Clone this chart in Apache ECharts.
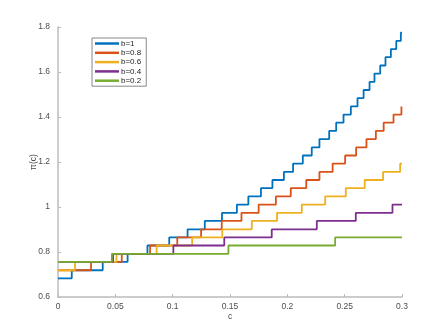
<!DOCTYPE html>
<html>
<head>
<meta charset="utf-8">
<script src="https://cdn.jsdelivr.net/npm/echarts@6/dist/echarts.min.js"></script>
<style>
  html, body { margin: 0; padding: 0; background: #fff; }
  #chart { width: 445px; height: 334px; }
</style>
</head>
<body>
<div id="chart"></div>
<script>
// step start positions (c) and the level held from there on
var b1X = [0, 0.012, 0.039, 0.0607, 0.078, 0.097, 0.113, 0.128, 0.143, 0.156, 0.166, 0.177, 0.187, 0.197, 0.205, 0.2135, 0.2213, 0.228, 0.2365, 0.2426, 0.249, 0.2554, 0.2612, 0.2665, 0.2717, 0.276, 0.281, 0.2856, 0.2903, 0.295, 0.299];
var b1Y = [0.683, 0.719, 0.756, 0.792, 0.829, 0.865, 0.901, 0.938, 0.974, 1.011, 1.047, 1.084, 1.120, 1.156, 1.193, 1.229, 1.265, 1.302, 1.338, 1.375, 1.411, 1.447, 1.484, 1.520, 1.556, 1.593, 1.629, 1.666, 1.702, 1.738, 1.775];

var b08X = [0, 0.0288, 0.0556, 0.0803, 0.104, 0.1248, 0.1428, 0.16, 0.175, 0.19, 0.203, 0.2165, 0.228, 0.2395, 0.2504, 0.26, 0.269, 0.2772, 0.284, 0.2926, 0.2995];
var b08Y = [0.719, 0.756, 0.792, 0.829, 0.865, 0.901, 0.938, 0.974, 1.011, 1.047, 1.084, 1.120, 1.156, 1.193, 1.229, 1.265, 1.302, 1.338, 1.375, 1.411, 1.447];

var b06X = [0, 0.0148, 0.051, 0.086, 0.117, 0.1433, 0.169, 0.191, 0.2126, 0.233, 0.251, 0.2675, 0.2835, 0.2984];
var b06Y = [0.719, 0.756, 0.792, 0.829, 0.865, 0.901, 0.938, 0.974, 1.011, 1.047, 1.084, 1.120, 1.156, 1.193];

var b04X = [0, 0.048, 0.1006, 0.145, 0.1864, 0.2257, 0.2597, 0.2917];
var b04Y = [0.756, 0.792, 0.829, 0.865, 0.901, 0.938, 0.974, 1.011];

var b02X = [0, 0.047, 0.1486, 0.2417];
var b02Y = [0.756, 0.792, 0.829, 0.865];

var names = ["b=1", "b=0.8", "b=0.6", "b=0.4", "b=0.2"];
var colors = ["#0072BD", "#D95319", "#EDB120", "#7E2F8E", "#77AC30"];
var cEnd = 0.3;

function steps(xs, ys) {
  var pts = [];
  for (var i = 0; i < xs.length; i++) {
    pts.push([xs[i], ys[i]]);
  }
  pts.push([cEnd, ys[ys.length - 1]]);
  return pts;
}

var allX = [b1X, b08X, b06X, b04X, b02X];
var allY = [b1Y, b08Y, b06Y, b04Y, b02Y];

var series = [];
for (var s = 0; s < names.length; s++) {
  series.push({
    name: names[s],
    type: "line",
    step: "end",
    symbol: "none",
    data: steps(allX[s], allY[s]),
    lineStyle: { color: colors[s], width: 1.8 },
    itemStyle: { color: colors[s] }
  });
}

var axisColor = "#bcbcbc";
var labelStyle = { fontFamily: "Liberation Sans", fontSize: 8.5, color: "#4d4d4d" };

var option = {
  backgroundColor: "#fff",
  animation: false,
  grid: { left: 58, right: 43, top: 27, bottom: 37 },
  legend: {
    orient: "vertical",
    left: 92,
    top: 38,
    data: names,
    icon: "rect",
    itemWidth: 24,
    itemHeight: 2.5,
    itemGap: 0.3,
    padding: [1, 5, 1, 3],
    borderColor: "#6b6b6b",
    borderWidth: 0.8,
    textStyle: { fontFamily: "Liberation Sans", fontSize: 8, lineHeight: 9, color: "#222", padding: [0, 0, 0, -3] }
  },
  xAxis: {
    type: "value",
    min: 0,
    max: 0.3,
    interval: 0.05,
    name: "c",
    nameLocation: "middle",
    nameGap: 15,
    nameMoveOverlap: false,
    nameTextStyle: labelStyle,
    axisLine: { lineStyle: { color: axisColor, width: 1.5 } },
    axisTick: { inside: true, length: 3, lineStyle: { color: axisColor } },
    axisLabel: Object.assign({ margin: 5 }, labelStyle),
    splitLine: { show: false }
  },
  yAxis: {
    type: "value",
    min: 0.6,
    max: 1.8,
    interval: 0.2,
    name: "π(c)",
    nameLocation: "middle",
    nameGap: 20,
    nameMoveOverlap: false,
    nameTextStyle: labelStyle,
    axisLine: { show: true, lineStyle: { color: axisColor, width: 1.5 } },
    axisTick: { show: true, inside: true, length: 3, lineStyle: { color: axisColor } },
    axisLabel: Object.assign({ margin: 8 }, labelStyle),
    splitLine: { show: false }
  },
  series: series
};

var chart = echarts.init(document.getElementById("chart"));
chart.setOption(option);
</script>
</body>
</html>
